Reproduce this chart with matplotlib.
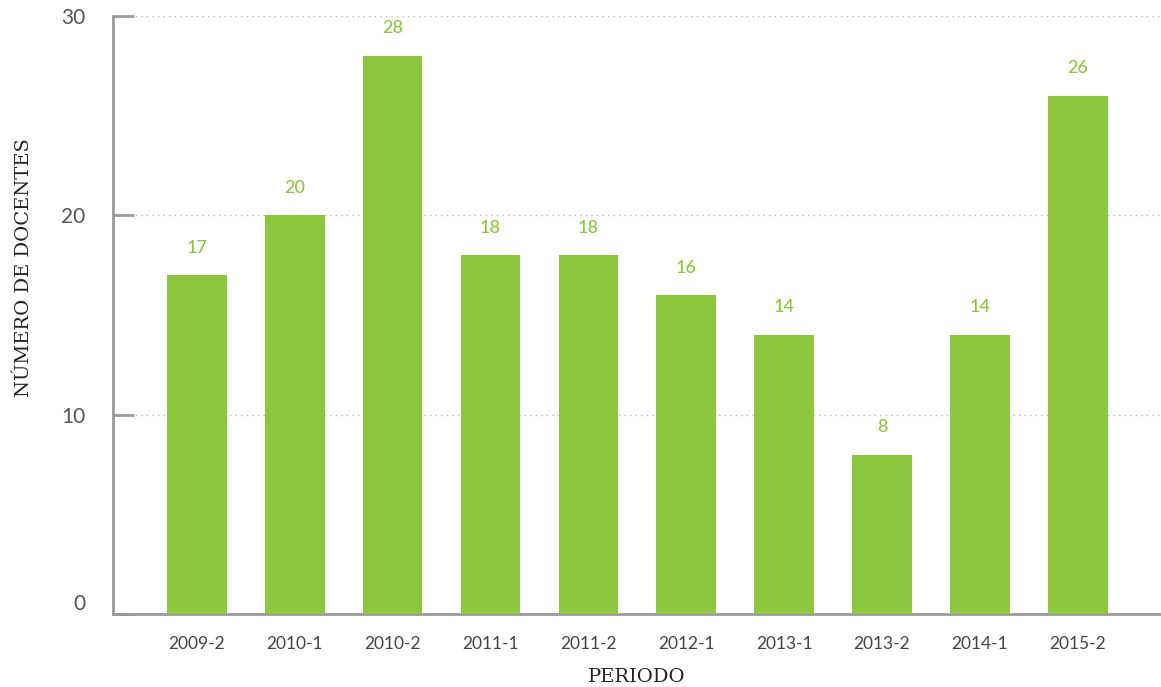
import matplotlib
matplotlib.use("Agg")
import matplotlib.pyplot as plt

periods = ["2009-2", "2010-1", "2010-2", "2011-1", "2011-2", "2012-1", "2013-1", "2013-2", "2014-1", "2015-2"]
docentes = [17, 20, 28, 18, 18, 16, 14, 8, 14, 26]
yticks = [0, 10, 20, 30]

green = "#8DC63F"
gray = "#9a9a9e"

fig = plt.figure(figsize=(11.61, 6.87), dpi=100)
ax = fig.add_axes([113/1161, 1-614/687, (1160-113)/1161, (614-16)/687])

x = list(range(len(periods)))
bars = ax.bar(x, docentes, width=0.61, color=green, zorder=3)
for xi, v in zip(x, docentes):
    ax.annotate(str(v), (xi, v), xytext=(0, 14), textcoords="offset points",
                ha="center", va="bottom", color=green, fontsize=13, family="Lato",
                fontweight="medium")

ax.set_xlim(-0.857, 9.84)
ax.set_ylim(0, 30)
ax.set_yticks(yticks)
ax.set_yticklabels([str(t) for t in yticks], family="Lato", fontsize=15, color="#555555")
ax.set_xticks(x)
ax.set_xticklabels(periods, family="Lato", fontsize=12.5, color="#444444")
ax.tick_params(axis="y", direction="in", length=15, width=2, color=gray, pad=20)
ax.tick_params(axis="x", length=0, pad=16)
for lbl, t in zip(ax.get_yticklabels(), yticks):
    lbl.set_verticalalignment("center_baseline" if t else "bottom")

ax.grid(axis="y", linestyle=(0, (1, 3)), color="#bbbbbb", linewidth=1, zorder=0)
for s in ["top", "right"]:
    ax.spines[s].set_visible(False)
ax.spines["left"].set_color(gray)
ax.spines["bottom"].set_color(gray)
ax.spines["left"].set_linewidth(2)
ax.spines["bottom"].set_linewidth(2)

ax.set_ylabel("NÚMERO DE DOCENTES", family="DejaVu Serif", fontsize=14, color="#222222")
ax.yaxis.set_label_coords(-80/1047, (614-268)/598)
ax.set_xlabel("PERIODO", family="DejaVu Serif", fontsize=14, color="#222222", labelpad=11)

fig.savefig("out.png", dpi=100)
